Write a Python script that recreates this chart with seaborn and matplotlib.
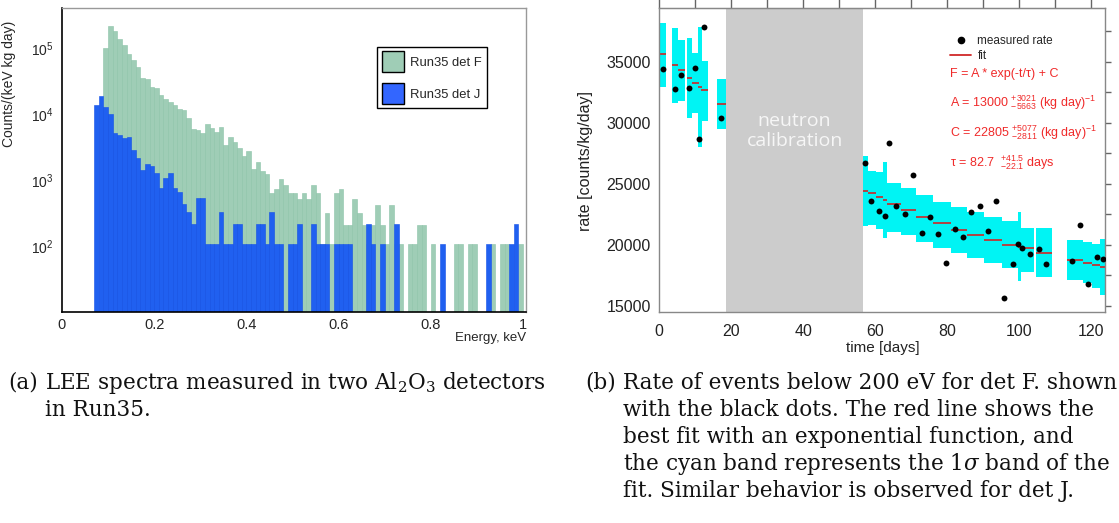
import numpy as np
import pandas as pd
import matplotlib
matplotlib.use("Agg")
import matplotlib.pyplot as plt
import seaborn as sns
from matplotlib.ticker import MultipleLocator, LogLocator, FixedLocator, NullFormatter, FixedFormatter
from matplotlib.lines import Line2D
from matplotlib.patches import Patch

# ---------------- data: panel (a) LEE spectra ----------------
bin_lo = np.round(np.arange(0.07, 0.995, 0.01), 2)   # 93 bins of 0.01 keV
rate_F = [0, 0, 100000, 215000, 181000, 137000, 111000, 81000, 65800, 51500,
          35100, 33900, 25600, 24800, 19400, 16900, 15200, 13700, 11900, 11500,
          8700, 5930, 5730, 5150, 7050, 6140, 5340, 6350, 3390, 4490,
          3770, 3050, 2310, 2750, 1470, 1870, 1370, 1230, 636, 731,
          1040, 840, 636, 636, 515, 636, 515, 840, 636, 107,
          316, 107, 636, 731, 208, 208, 515, 316, 208, 107,
          208, 417, 208, 107, 417, 107, 107, 0, 107, 107,
          208, 208, 0, 107, 0, 0, 0, 0, 107, 107,
          0, 107, 107, 0, 0, 0, 107, 0, 107, 107,
          0, 0, 107]
rate_J = [13700, 18600, 12800, 10000, 5150, 4800, 4330, 4470, 2850, 2150,
          1420, 1750, 1630, 1280, 757, 1070, 1280, 757, 658, 433,
          327, 215, 533, 533, 107, 107, 107, 327, 107, 107,
          215, 215, 107, 107, 107, 215, 215, 107, 327, 107,
          107, 0, 107, 107, 215, 0, 0, 215, 107, 107,
          107, 0, 107, 107, 107, 107, 0, 0, 0, 215,
          107, 0, 107, 0, 0, 215, 0, 0, 0, 0,
          0, 0, 0, 0, 0, 107, 0, 0, 0, 0,
          0, 0, 0, 0, 0, 107, 0, 0, 0, 0,
          107, 215, 0]
legend_a = ["Run35 det F", "Run35 det J"]
xticks_a = [0, 0.2, 0.4, 0.6, 0.8, 1.0]
xticklabels_a = ["0", "0.2", "0.4", "0.6", "0.8", "1"]

# ---------------- data: panel (b) rate vs time ----------------
t_meas = [0.9, 4.3, 5.9, 8.3, 10.0, 11.1, 12.5, 17.2,
          57.1, 58.8, 61.1, 62.8, 63.9, 65.8, 68.3, 70.5, 72.9, 75.1, 77.4, 79.7,
          82.1, 84.3, 86.7, 89.1, 91.4, 93.7, 95.9, 98.3, 99.8, 100.9, 102.9,
          105.6, 107.5, 114.6, 116.9, 119.1, 121.5, 123.3]
rate_meas = [34380, 32740, 33880, 32820, 34460, 28640, 37820, 30380,
             26720, 23550, 22780, 22320, 28310, 23170, 22490, 25690, 20930, 22290, 20850, 18470,
             21260, 20600, 22680, 23140, 21090, 23580, 15600, 18410, 20030, 19720, 19210,
             19620, 18390, 18660, 21630, 16800, 18960, 18850]
band_t0 = [0.0, 3.6, 5.1, 7.8, 9.1, 10.8, 11.5, 16.0,
           56.7, 57.9, 60.1, 62.3, 63.4, 67.1, 71.4, 76.0, 81.0, 85.5, 90.3, 95.1,
           99.6, 100.4, 104.6, 113.3, 117.8, 120.3, 122.6]
band_t1 = [2.0, 5.1, 7.1, 9.1, 10.9, 11.8, 13.6, 18.5,
           57.9, 60.1, 62.3, 63.4, 67.1, 71.4, 76.0, 81.0, 85.5, 90.3, 95.1, 99.6,
           100.4, 104.1, 109.0, 117.8, 120.3, 122.6, 124.0]
band_lo = [32950, 31640, 31800, 30360, 30820, 28030, 30160, 29460,
           21550, 21610, 21250, 20570, 21060, 20790, 20240, 19700, 19290, 18880, 18470, 18060,
           17040, 17780, 17320, 17100, 16830, 16420, 15870]
band_hi = [38200, 37790, 36780, 36970, 35690, 37870, 35080, 33580,
           27290, 26060, 25920, 26780, 25030, 24620, 24070, 23520, 23110, 22700, 22290, 21935,
           22700, 21390, 21390, 20380, 20240, 20050, 20460]
fit_val = [35630, 34730, 34300, 33660, 33280, 32950, 32650, 31510,
           24420, 24210, 23880, 23660, 23330, 22840, 22290, 21750, 21200, 20760, 20370, 19990,
           19830, 19700, 19290, 18740, 18520, 18300, 18190]
calib_span = (18.5, 56.7)
legend_b = ["measured rate", "fit"]
fit_texts = [r"F = A * exp(-t/τ) + C",
             r"A = 13000 $\mathregular{^{+3021}_{-5663}}$ (kg day)$\mathregular{^{-1}}$",
             r"C = 22805 $\mathregular{^{+5077}_{-2811}}$ (kg day)$\mathregular{^{-1}}$",
             r"τ = 82.7  $\mathregular{^{+41.5}_{-22.1}}$ days"]

caption_a = ["(a)", r"LEE spectra measured in two Al$\mathregular{_2}$O$\mathregular{_3}$ detectors", "in Run35."]
caption_b = ["(b)", "Rate of events below 200 eV for det F. shown",
             "with the black dots. The red line shows the",
             "best fit with an exponential function, and",
             r"the cyan band represents the 1$\sigma$ band of the",
             "fit. Similar behavior is observed for det J."]

# ---------------- style ----------------
sns.set_style("white")
plt.rcParams["font.family"] = ["Liberation Sans", "DejaVu Sans"]
plt.rcParams["mathtext.fontset"] = "dejavuserif"

W, H = 1119, 523
fig = plt.figure(figsize=(W / 100, H / 100), dpi=100)
fig.patch.set_facecolor("white")

GREEN = "#9fcdb6"
BLUE = "#2060f0"

# ---------------- panel (a) ----------------
ax1 = fig.add_axes([62 / W, 1 - 312 / H, 464 / W, 304 / H])
edges = [float(e) for e in np.round(np.append(bin_lo, bin_lo[-1] + 0.01), 2)]
df_a = pd.DataFrame({"energy": bin_lo + 0.005, "F": rate_F, "J": rate_J})
sns.histplot(data=df_a, x="energy", weights="F", bins=edges, color=GREEN, alpha=1,
             edgecolor="#8cc3a8", linewidth=0.4, ax=ax1)
sns.histplot(data=df_a, x="energy", weights="J", bins=edges, color=BLUE, alpha=1,
             edgecolor="#1450e8", linewidth=0.4, ax=ax1)
ax1.set_yscale("log")
ax1.set_ylim(10, 4.04e5)
ax1.set_xlim(0, 1.0065)
ax1.xaxis.set_major_locator(FixedLocator(xticks_a))
ax1.xaxis.set_major_formatter(FixedFormatter(xticklabels_a))
ax1.xaxis.set_minor_locator(MultipleLocator(0.05))
ax1.yaxis.set_major_locator(FixedLocator([1e2, 1e3, 1e4, 1e5]))
ax1.yaxis.set_major_formatter(FixedFormatter([r"$\mathregular{10^{2}}$", r"$\mathregular{10^{3}}$",
                                              r"$\mathregular{10^{4}}$", r"$\mathregular{10^{5}}$"]))
ax1.yaxis.set_minor_locator(LogLocator(base=10, subs=np.arange(2, 10)))
ax1.yaxis.set_minor_formatter(NullFormatter())
ax1.tick_params(axis="x", which="major", direction="in", length=9, width=1, labelsize=10.5, pad=4, color="black")
ax1.tick_params(axis="x", which="minor", direction="in", length=5, width=1, color="#555555")
ax1.tick_params(axis="y", which="major", direction="in", length=14, width=1, labelsize=10, pad=6)
ax1.tick_params(axis="y", which="minor", direction="in", length=7, width=1)
for s in ["left", "bottom"]:
    ax1.spines[s].set_color("black")
    ax1.spines[s].set_linewidth(1.2)
for s in ["top", "right"]:
    ax1.spines[s].set_color("#999999")
    ax1.spines[s].set_linewidth(1.0)
ax1.set_xlabel("Energy, keV", fontsize=9.5, loc="right", labelpad=0)
ax1.set_ylabel("Counts/(keV kg day)", fontsize=10)
ax1.yaxis.set_label_coords(-0.099, 0.75)
handles_a = [Patch(facecolor=GREEN, edgecolor="black", linewidth=1),
             Patch(facecolor="#3366ff", edgecolor="black", linewidth=1)]
leg = ax1.legend(handles_a, legend_a, loc="upper left", bbox_to_anchor=(0.679, 0.872),
                 fontsize=9.4, frameon=True, fancybox=False, edgecolor="black", framealpha=1,
                 handlelength=1.7, handleheight=2.0, labelspacing=0.9, borderpad=0.35,
                 handletextpad=0.5, borderaxespad=0)
leg.get_frame().set_linewidth(1.0)

# ---------------- panel (b) ----------------
ax2 = fig.add_axes([659.3 / W, 1 - 312 / H, 446.2 / W, 304 / H])
ax2.axvspan(calib_span[0], calib_span[1], color="#cccccc", lw=0, zorder=0)
ax2.bar(x=band_t0, height=np.array(band_hi) - np.array(band_lo), bottom=band_lo,
        width=np.array(band_t1) - np.array(band_t0), align="edge", color="#00f4f4", lw=0, zorder=1)
ax2.hlines(fit_val, band_t0, band_t1, colors="#c03535", lw=1.3, zorder=2)
df_b = pd.DataFrame({"t": t_meas, "rate": rate_meas})
sns.scatterplot(data=df_b, x="t", y="rate", color="black", s=18, linewidth=0, ax=ax2, zorder=3)
ax2.text(np.mean(calib_span), 29320, "neutron\ncalibration", color="#f6f6f6",
         family=["Open Sans", "DejaVu Sans"], fontsize=14, ha="center", va="center",
         linespacing=1.15, zorder=2)
ax2.set_xlim(0, 124)
ax2.set_ylim(14480, 39400)
ax2.xaxis.set_major_locator(MultipleLocator(20))
ax2.xaxis.set_minor_locator(MultipleLocator(10))
ax2.yaxis.set_major_locator(MultipleLocator(5000))
ax2.yaxis.set_minor_locator(MultipleLocator(2500))
ax2.tick_params(axis="both", which="both", direction="out", length=4, width=1, color="#666666",
                labelsize=11.5, labelcolor="#222222")
ax2.tick_params(axis="y", which="both", right=True, labelright=False)
ax2.tick_params(axis="y", which="major", pad=2)
ax2.tick_params(axis="x", which="major", pad=5)
secax = ax2.secondary_xaxis("top")
secax.xaxis.set_major_locator(MultipleLocator(10))
secax.tick_params(axis="x", direction="out", length=8, width=1, color="#666666", labeltop=False)
secax.spines["top"].set_color("#888888")
for s in ["left", "bottom", "top", "right"]:
    ax2.spines[s].set_color("#888888")
    ax2.spines[s].set_linewidth(1.0)
ax2.set_xlabel("time [days]", fontsize=11, labelpad=1, color="#222222")
ax2.set_ylabel("rate [counts/kg/day]", fontsize=11.5, color="#222222")
ax2.yaxis.set_label_coords(-0.149, 0.497)
handles_b = [Line2D([], [], marker="o", color="black", linestyle="none", markersize=4.5),
             Line2D([], [], color="#d02828", lw=1.3)]
ax2.legend(handles_b, legend_b, loc="upper left", bbox_to_anchor=(0.652, 0.912), fontsize=8.5,
           frameon=False, handlelength=1.8, labelspacing=0.25, handletextpad=0.5, borderaxespad=0,
           borderpad=0)
for txt, ypos in zip(fit_texts, [0.783, 0.6875, 0.589, 0.49]):
    ax2.text(0.651, ypos, txt, transform=ax2.transAxes, color="#f02a2a", fontsize=9,
             ha="left", va="center", zorder=4)

# ---------------- captions ----------------
cap_kw = dict(family=["DejaVu Serif"], fontsize=15.5, va="center", color="#111111")
fig.text(38 / W, 1 - 383 / H, caption_a[0], ha="right", **cap_kw)
fig.text(45 / W, 1 - 383 / H, caption_a[1], ha="left", **cap_kw)
fig.text(45 / W, 1 - 410 / H, caption_a[2], ha="left", **cap_kw)
fig.text(616 / W, 1 - 383 / H, caption_b[0], ha="right", **cap_kw)
for i, line in enumerate(caption_b[1:]):
    fig.text(623 / W, 1 - (383 + 27 * i) / H, line, ha="left", **cap_kw)

fig.savefig("out.png", dpi=100, facecolor="white")
